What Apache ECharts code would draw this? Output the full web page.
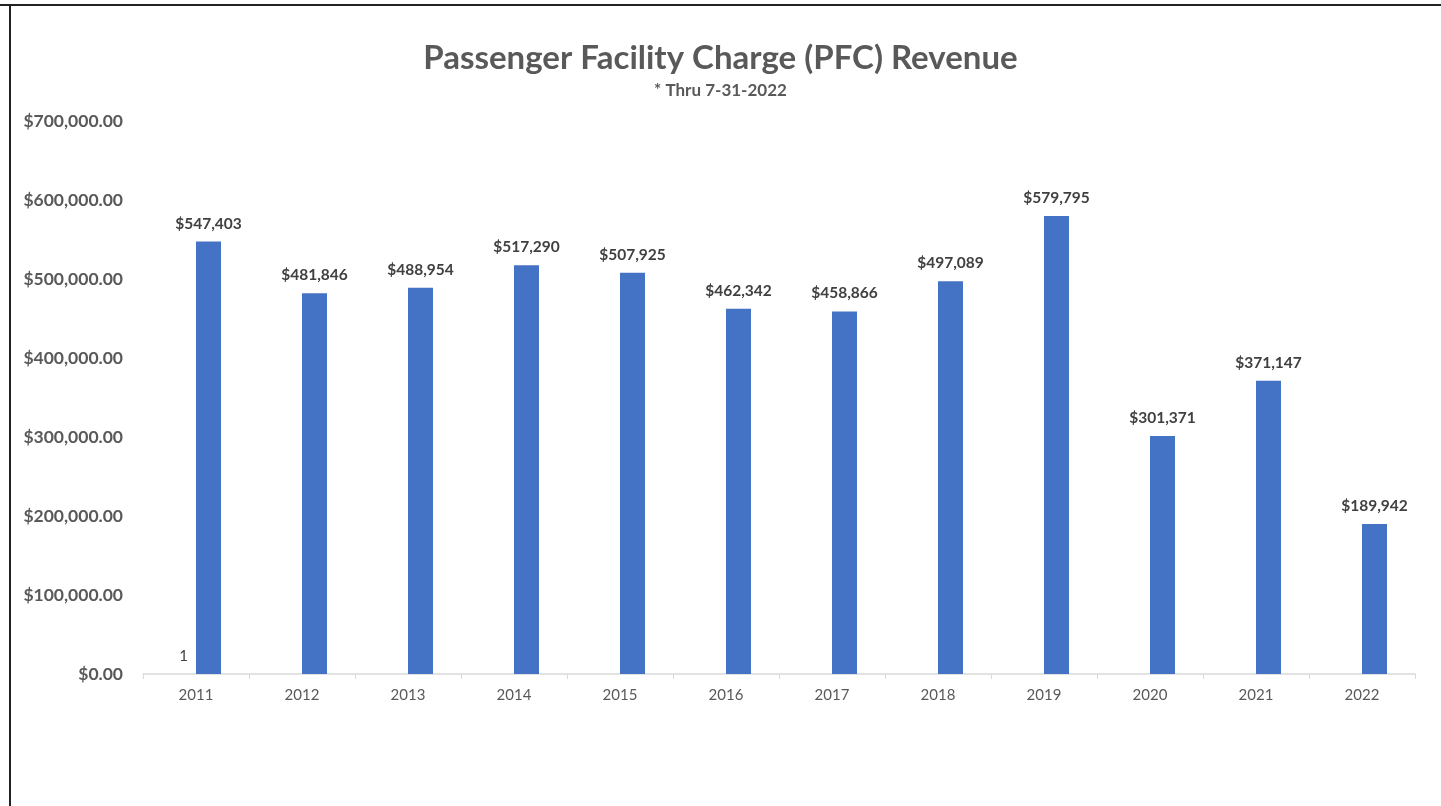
<!DOCTYPE html>
<html>
<head>
<meta charset="utf-8">
<script src="https://cdn.jsdelivr.net/npm/echarts@6/dist/echarts.min.js"></script>
<style>
  html, body { margin: 0; padding: 0; background: #fff; }
  #chart { width: 1441px; height: 806px; }
</style>
</head>
<body>
<div id="chart"></div>
<script>
var years = ["2011", "2012", "2013", "2014", "2015", "2016", "2017", "2018", "2019", "2020", "2021", "2022"];
// hidden first series: only a 1 in 2011 (shows the stray "1" label)
var series1Values = [1, null, null, null, null, null, null, null, null, null, null, null];
var revenueValues = [547403, 481846, 488954, 517290, 507925, 462342, 458866, 497089, 579795, 301371, 371147, 189942];

var chartDom = document.getElementById("chart");
var myChart = echarts.init(chartDom);
var font = "Lato, 'Open Sans', sans-serif";

function money(v, dec) {
  return "$" + Number(v).toLocaleString("en-US", { minimumFractionDigits: dec, maximumFractionDigits: dec });
}

var option = {
  animation: false,
  title: {
    text: "Passenger Facility Charge (PFC) Revenue",
    subtext: "* Thru 7-31-2022",
    left: "center",
    top: 37,
    itemGap: 7,
    textStyle: { fontFamily: font, fontSize: 33, fontWeight: "bold", color: "#595959" },
    subtextStyle: { fontFamily: font, fontSize: 17, fontWeight: "bold", color: "#595959" }
  },
  graphic: [
    { type: "line", shape: { x1: 0, y1: 5, x2: 1441, y2: 5 }, style: { stroke: "#222", lineWidth: 2 } },
    { type: "line", shape: { x1: 10, y1: 4, x2: 10, y2: 806 }, style: { stroke: "#222", lineWidth: 2 } }
  ],
  grid: { left: 143, right: 26, top: 121, bottom: 132, containLabel: false },
  xAxis: {
    type: "category",
    data: years,
    axisLine: { lineStyle: { color: "#D9D9D9", width: 1.5 } },
    axisTick: { show: true, length: 5, lineStyle: { color: "#D9D9D9" } },
    axisLabel: { fontFamily: font, fontSize: 15, color: "#595959", margin: 14 }
  },
  yAxis: {
    type: "value",
    min: 0,
    max: 700000,
    interval: 100000,
    splitLine: { show: false },
    axisLine: { show: false },
    axisTick: { show: false },
    axisLabel: {
      fontFamily: font, fontSize: 17.5, fontWeight: "bold", color: "#595959", margin: 20,
      formatter: function (v) { return money(v, 2); }
    }
  },
  series: [
    {
      type: "bar",
      data: series1Values,
      barWidth: 25,
      barGap: "0%",
      itemStyle: { color: "rgba(0,0,0,0)" },
      label: {
        show: true, position: "top", distance: 10,
        fontFamily: font, fontSize: 15, color: "#404040"
      }
    },
    {
      type: "bar",
      data: revenueValues,
      barWidth: 25,
      barGap: "0%",
      itemStyle: { color: "#4472C4" },
      label: {
        show: true, position: "top", distance: 10,
        fontFamily: font, fontSize: 15.5, fontWeight: "bold", color: "#404040",
        formatter: function (p) { return money(p.value, 0); }
      }
    }
  ]
};

option && myChart.setOption(option);
</script>
</body>
</html>
